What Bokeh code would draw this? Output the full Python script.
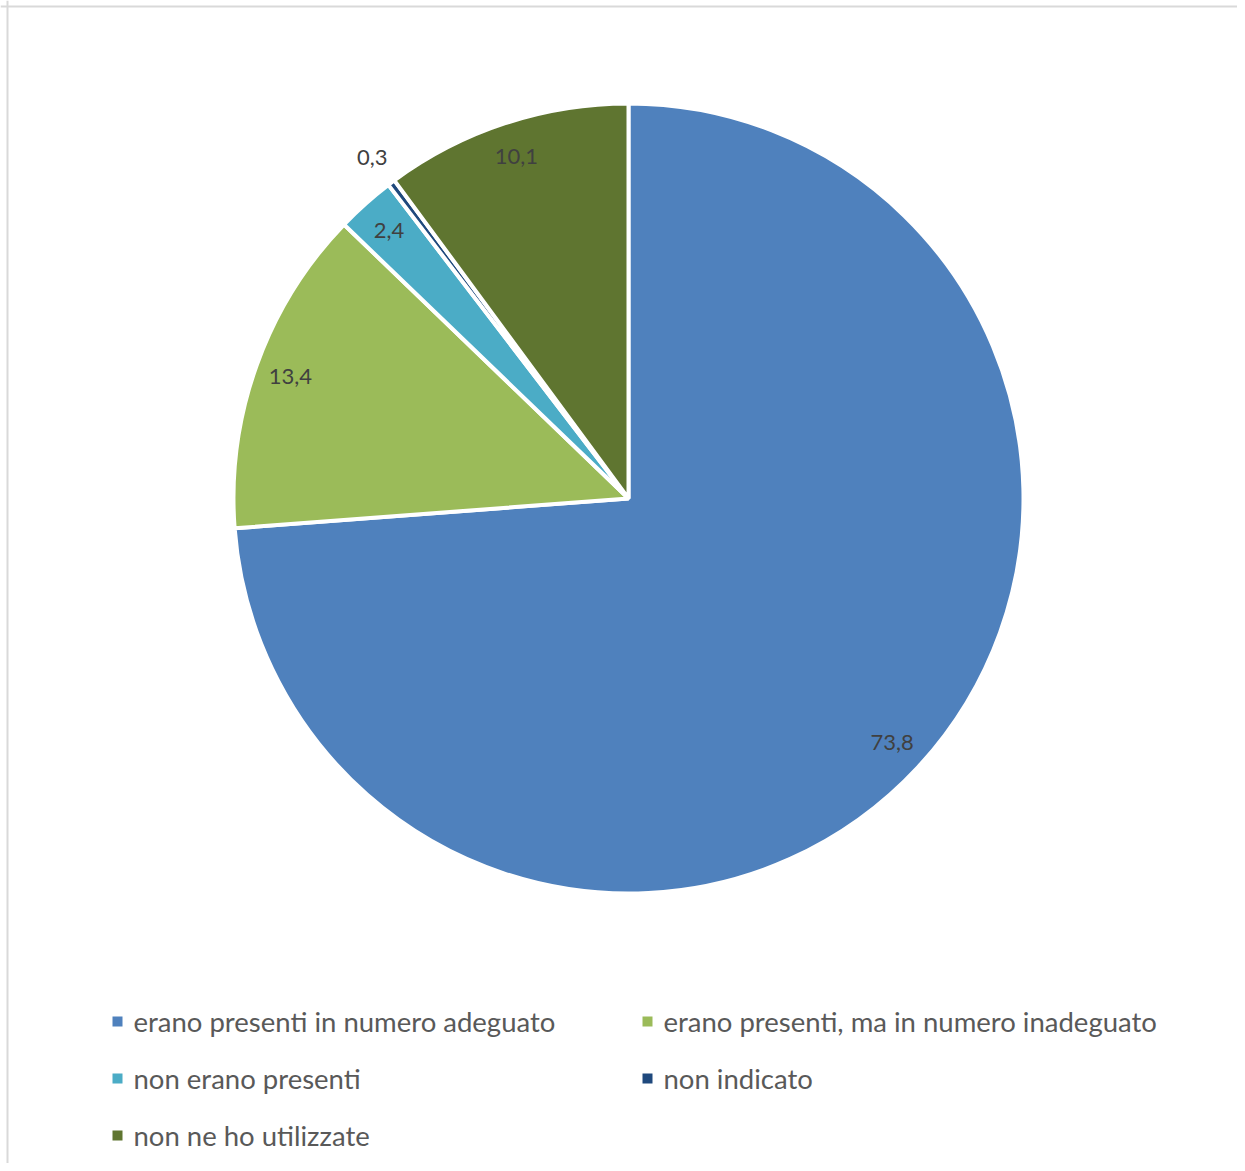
import numpy as np
from bokeh.plotting import figure
from bokeh.models import ColumnDataSource, Range1d, Span
from bokeh.embed import file_html
from bokeh.resources import INLINE
from bokeh.core.properties import value

# ---- data ----
categories = [
    "erano presenti in numero adeguato",
    "erano presenti, ma in numero inadeguato",
    "non erano presenti",
    "non indicato",
    "non ne ho utilizzate",
]
values = [73.8, 13.4, 2.4, 0.3, 10.1]
value_labels = ["73,8", "13,4", "2,4", "0,3", "10,1"]

# ---- style ----
colors = ["#4F81BD", "#9BBB59", "#4BACC6", "#1F497D", "#5F7530"]
label_radius_frac = [0.91, 0.91, 0.91, 1.08, 0.91]
FONT = "Lato"

W, H = 1237, 1163
p = figure(width=W, height=H, x_range=Range1d(0, W), y_range=Range1d(0, H),
           output_backend="svg", toolbar_location=None, min_border=0,
           x_axis_location=None, y_axis_location=None)
p.grid.visible = False
p.outline_line_color = None
p.background_fill_color = "white"
p.border_fill_color = "white"

def px(xp):
    return xp

def py(yp):
    return H - yp

cx, cy, r = px(628), py(498), 395

vals = np.array(values)
cum = np.concatenate([[0], np.cumsum(vals)]) / vals.sum()
start = np.pi / 2 - 2 * np.pi * cum[:-1]
end = np.pi / 2 - 2 * np.pi * cum[1:]
mid = (start + end) / 2

src = ColumnDataSource(dict(start=start, end=end, color=colors, cat=categories))
p.wedge(x=cx, y=cy, radius=r, start_angle="start", end_angle="end",
        direction="clock", fill_color="color", line_color="white",
        line_width=4, source=src)

lr = np.array(label_radius_frac) * r
lsrc = ColumnDataSource(dict(x=cx + lr * np.cos(mid), y=cy + lr * np.sin(mid), t=value_labels))
p.text(x="x", y="y", text="t", source=lsrc, text_font=value(FONT),
       text_font_size="22px", text_color="#404040",
       text_align="center", text_baseline="middle")

# ---- legend (two columns) ----
col_x = [117, 647]
row_y = [1021, 1078, 1135]
lx, ly, tx = [], [], []
for i in range(len(categories)):
    c, rr = i % 2, i // 2
    lx.append(px(col_x[c]))
    ly.append(py(row_y[rr]))
    tx.append(px(col_x[c] + 16))
lgsrc = ColumnDataSource(dict(x=lx, y=ly, tx=tx, color=colors, t=categories))
p.scatter(x="x", y="y", marker="square", size=10, fill_color="color",
          line_color=None, source=lgsrc)
p.text(x="tx", y="y", text="t", source=lgsrc, text_font=value(FONT),
       text_font_size="27.5px", text_color="#595959",
       text_align="left", text_baseline="middle")

# chart frame (top & left visible in reference)
p.add_layout(Span(location=py(6), dimension="width", line_color="#d9d9d9", line_width=2))
p.add_layout(Span(location=px(7), dimension="height", line_color="#d9d9d9", line_width=2))

open("out.html", "w").write(file_html(p, INLINE))
